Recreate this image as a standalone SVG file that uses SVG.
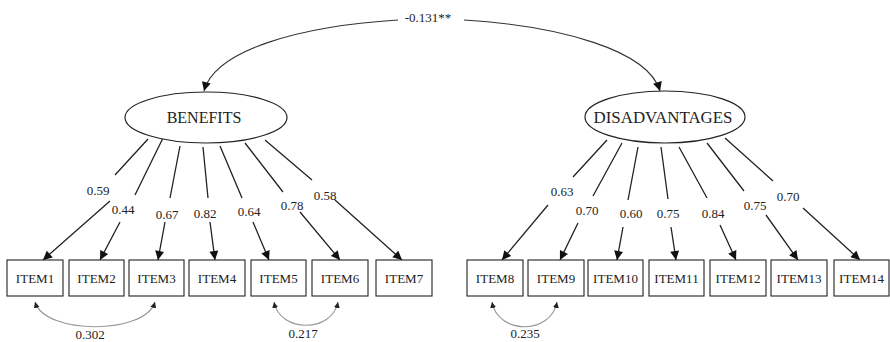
<svg xmlns="http://www.w3.org/2000/svg" width="890" height="342" viewBox="0 0 890 342">
<style>
text{font-family:"Liberation Serif","Times New Roman",serif;fill:#222;text-anchor:middle}
.lat{font-size:16px}
.it{font-size:13px}
.lb{font-size:13px}
.box{fill:#fff;stroke:#222;stroke-width:1.1}
.ell{fill:#fff;stroke:#222;stroke-width:1.2}
.ld{fill:none;stroke:#222;stroke-width:1.3}
.cv{fill:none;stroke:#333;stroke-width:1.1}
.cr{fill:none;stroke:#999;stroke-width:1.2}
</style>
<defs>
<marker id="ah" viewBox="0 0 10 10" refX="10" refY="5" markerWidth="10" markerHeight="9" markerUnits="userSpaceOnUse" orient="auto"><path d="M0,0 L10,5 L0,10 z" fill="#111"/></marker>
<marker id="sh" viewBox="0 0 10 10" refX="10" refY="5" markerWidth="6" markerHeight="6" markerUnits="userSpaceOnUse" orient="auto-start-reverse"><path d="M0,0 L10,5 L0,10 z" fill="#222"/></marker>
</defs>
<rect width="890" height="342" fill="#fff"/>
<g id="connectors">
<path class="cv" d="M398,20 C300,26 215,50 204,91" marker-end="url(#ah)"/>
<path class="cv" d="M464,20 C560,26 648,50 660,91" marker-end="url(#ah)"/>
<path class="ld" d="M148,139 L115,175 M110,201 L43,260" marker-end="url(#ah)"/>
<path class="ld" d="M163,138 L135,195 M120,222 L100,260" marker-end="url(#ah)"/>
<path class="ld" d="M180,146 L170,198 M165,222 L158,260" marker-end="url(#ah)"/>
<path class="ld" d="M203,147 L208,198 M210,222 L215,260" marker-end="url(#ah)"/>
<path class="ld" d="M220,146 L242,198 M253,222 L269,260" marker-end="url(#ah)"/>
<path class="ld" d="M245,143 L283,192 M300,212 L340,260" marker-end="url(#ah)"/>
<path class="ld" d="M265,140 L312,180 M335,200 L402,260" marker-end="url(#ah)"/>
<path class="ld" d="M607,140 L573,177 M548,205 L502,260" marker-end="url(#ah)"/>
<path class="ld" d="M622,143 L593,196 M578,223 L560,260" marker-end="url(#ah)"/>
<path class="ld" d="M638,147 L628,200 M623,227 L617,260" marker-end="url(#ah)"/>
<path class="ld" d="M661,147 L668,199 M671,227 L676,260" marker-end="url(#ah)"/>
<path class="ld" d="M679,147 L707,198 M720,225 L736,260" marker-end="url(#ah)"/>
<path class="ld" d="M707,143 L744,191 M766,215 L798,260" marker-end="url(#ah)"/>
<path class="ld" d="M725,138 L773,181 M803,208 L860,260" marker-end="url(#ah)"/>
<path class="cr" d="M35,302 C45,335 145,335 155,302" marker-start="url(#sh)" marker-end="url(#sh)"/>
<path class="cr" d="M274,302 C280,333 332,333 338,302" marker-start="url(#sh)" marker-end="url(#sh)"/>
<path class="cr" d="M492,302 C498,335 551,335 557,302" marker-start="url(#sh)" marker-end="url(#sh)"/>
<text class="lb" x="428" y="22">-0.131**</text>
<text class="lb" x="98" y="194.5">0.59</text>
<text class="lb" x="123" y="213.5">0.44</text>
<text class="lb" x="167" y="218.5">0.67</text>
<text class="lb" x="205" y="217.5">0.82</text>
<text class="lb" x="249" y="215.5">0.64</text>
<text class="lb" x="292" y="209.5">0.78</text>
<text class="lb" x="325" y="199.5">0.58</text>
<text class="lb" x="562" y="195.5">0.63</text>
<text class="lb" x="587" y="214.5">0.70</text>
<text class="lb" x="631" y="217.5">0.60</text>
<text class="lb" x="668" y="217.5">0.75</text>
<text class="lb" x="713" y="217.5">0.84</text>
<text class="lb" x="755" y="209.5">0.75</text>
<text class="lb" x="788" y="200.5">0.70</text>
<text class="lb" x="90" y="339">0.302</text>
<text class="lb" x="303" y="338">0.217</text>
<text class="lb" x="525" y="338">0.235</text>
</g>
<g id="BENEFITS"><ellipse class="ell" cx="206" cy="117.5" rx="81" ry="25.5"/><text class="lat" x="204" y="123">BENEFITS</text></g>
<g id="DISADVANTAGES"><ellipse class="ell" cx="665" cy="117" rx="80" ry="26"/><text class="lat" x="663" y="123" textLength="139" lengthAdjust="spacingAndGlyphs">DISADVANTAGES</text></g>
<g id="ITEM1"><rect class="box" x="7" y="260" width="56" height="36"/><text class="it" x="35" y="283">ITEM1</text></g>
<g id="ITEM2"><rect class="box" x="69" y="260" width="55" height="36"/><text class="it" x="96.5" y="283">ITEM2</text></g>
<g id="ITEM3"><rect class="box" x="129" y="260" width="55" height="36"/><text class="it" x="156.5" y="283">ITEM3</text></g>
<g id="ITEM4"><rect class="box" x="189" y="260" width="56" height="36"/><text class="it" x="217" y="283">ITEM4</text></g>
<g id="ITEM5"><rect class="box" x="251" y="260" width="55" height="36"/><text class="it" x="278.5" y="283">ITEM5</text></g>
<g id="ITEM6"><rect class="box" x="312" y="260" width="56" height="36"/><text class="it" x="340" y="283">ITEM6</text></g>
<g id="ITEM7"><rect class="box" x="376" y="260" width="56" height="36"/><text class="it" x="404" y="283">ITEM7</text></g>
<g id="ITEM8"><rect class="box" x="467" y="260" width="56" height="36"/><text class="it" x="495" y="283">ITEM8</text></g>
<g id="ITEM9"><rect class="box" x="528" y="260" width="56" height="36"/><text class="it" x="556" y="283">ITEM9</text></g>
<g id="ITEM10"><rect class="box" x="588" y="260" width="55" height="36"/><text class="it" x="615.5" y="283">ITEM10</text></g>
<g id="ITEM11"><rect class="box" x="649" y="260" width="55" height="36"/><text class="it" x="676.5" y="283">ITEM11</text></g>
<g id="ITEM12"><rect class="box" x="710" y="260" width="56" height="36"/><text class="it" x="738" y="283">ITEM12</text></g>
<g id="ITEM13"><rect class="box" x="771" y="260" width="56" height="36"/><text class="it" x="799" y="283">ITEM13</text></g>
<g id="ITEM14"><rect class="box" x="834" y="260" width="55" height="36"/><text class="it" x="861.5" y="283">ITEM14</text></g>
</svg>
